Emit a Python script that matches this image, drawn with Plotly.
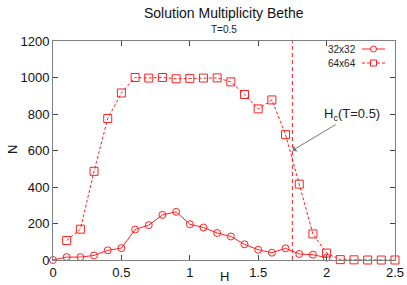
import plotly.graph_objects as go

# ---- data ----
H_32 = [0.0, 0.1, 0.2, 0.3, 0.4, 0.5, 0.6, 0.7, 0.8, 0.9, 1.0, 1.1, 1.2, 1.3, 1.4, 1.5, 1.6, 1.7, 1.8, 1.9, 2.0]
N_32 = [0, 16, 16, 25, 53, 65, 167, 191, 247, 264, 196, 178, 148, 129, 86, 56, 40, 64, 33, 29, 13]

H_64 = [0.1, 0.2, 0.3, 0.4, 0.5, 0.6, 0.7, 0.8, 0.9, 1.0, 1.1, 1.2, 1.3, 1.4, 1.5, 1.6, 1.7, 1.8, 1.9, 2.0, 2.1, 2.2, 2.3, 2.4, 2.5]
N_64 = [107, 169, 486, 775, 915, 1000, 997, 1000, 993, 995, 997, 998, 976, 907, 828, 877, 687, 416, 143, 38, 2, 1, 0, 0, 0]

HC = 1.75
HC_N = 600
SERIES_NAMES = ["32x32", "64x64"]
X_TICKS = [0, 0.5, 1, 1.5, 2, 2.5]
X_TICK_LABELS = ["0", "0.5", "1", "1.5", "2", "2.5"]
Y_TICKS = [0, 200, 400, 600, 800, 1000, 1200]
Y_TICK_LABELS = ["0", "200", "400", "600", "800", "1000", "1200"]

RED = "#ff2020"
GRAY = "#808080"
FONT = "Liberation Sans, Arial, sans-serif"

W, H = 407, 285
L, R, T, B = 53, 12, 41, 25
PW, PH = W - L - R, H - T - B


def px(xp):
    return (xp - L) / PW


def py(yp):
    return (H - B - yp) / PH


fig = go.Figure()
fig.add_trace(go.Scatter(
    x=H_32, y=N_32, name=SERIES_NAMES[0], mode="lines+markers",
    line=dict(color=RED, width=1),
    marker=dict(symbol="circle-open", size=7, color=RED, line=dict(width=1)),
    cliponaxis=False, showlegend=False))
fig.add_trace(go.Scatter(
    x=H_64, y=N_64, name=SERIES_NAMES[1], mode="lines+markers",
    line=dict(color=RED, width=1, dash="3px,2px"),
    marker=dict(symbol="square-open", size=8, color=RED, line=dict(width=1)),
    cliponaxis=False, showlegend=False))

shapes = [
    dict(type="line", xref="x", yref="paper", x0=HC, x1=HC, y0=0, y1=1,
         line=dict(color=RED, width=1, dash="4px,3px")),
]

# manual legend (text left, sample right)
rows = [49, 63]
for i, yy in enumerate(rows):
    shapes.append(dict(type="line", xref="paper", yref="paper",
                       x0=px(362), x1=px(385), y0=py(yy), y1=py(yy),
                       line=dict(color=RED, width=1, dash="solid" if i == 0 else "3px,2px")))
    shapes.append(dict(type="circle" if i == 0 else "rect",
                       xref="paper", yref="paper",
                       xsizemode="pixel", ysizemode="pixel",
                       xanchor=px(373.5), yanchor=py(yy),
                       x0=-3, x1=3, y0=-3, y1=3,
                       fillcolor="white", line=dict(color=RED, width=1)))

annotations = [
    dict(text=SERIES_NAMES[0], xref="paper", yref="paper", x=px(358), y=py(rows[0]),
         xanchor="right", yanchor="middle", showarrow=False,
         font=dict(size=10, color="#222", family=FONT)),
    dict(text=SERIES_NAMES[1], xref="paper", yref="paper", x=px(358), y=py(rows[1]),
         xanchor="right", yanchor="middle", showarrow=False,
         font=dict(size=10, color="#222", family=FONT)),
    dict(text="H<sub>c</sub>(T=0.5)", x=HC, y=HC_N, xref="x", yref="y",
         ax=60, ay=-36, showarrow=True, arrowhead=1, arrowsize=1.2,
         arrowwidth=1, arrowcolor="#777",
         font=dict(size=13, color="#222", family=FONT)),
    dict(text="Solution Multiplicity Bethe", xref="paper", yref="paper",
         x=px(224), y=py(13), showarrow=False, xanchor="center", yanchor="middle",
         font=dict(size=14, color="#111", family=FONT)),
    dict(text="T=0.5", xref="paper", yref="paper",
         x=px(224), y=py(29), showarrow=False, xanchor="center", yanchor="middle",
         font=dict(size=10, color="#222", family=FONT)),
    dict(text="H", xref="paper", yref="paper",
         x=px(224), y=py(276), showarrow=False, xanchor="center", yanchor="middle",
         font=dict(size=13, color="#111", family=FONT)),
    dict(text="N", xref="paper", yref="paper", textangle=-90,
         x=px(12), y=py(150), showarrow=False, xanchor="center", yanchor="middle",
         font=dict(size=13, color="#111", family=FONT)),
]

fig.update_layout(
    width=W, height=H,
    margin=dict(l=L, r=R, t=T, b=B, pad=0, autoexpand=False),
    paper_bgcolor="white", plot_bgcolor="white",
    font=dict(family=FONT, size=13, color="#111"),
    shapes=shapes, annotations=annotations,
    showlegend=False,
    xaxis=dict(range=[0, 2.5], tickvals=X_TICKS, ticktext=X_TICK_LABELS,
               automargin=False,
               showgrid=False, zeroline=False, showline=True, linecolor=GRAY,
               linewidth=1, mirror="ticks", ticks="inside", ticklen=5,
               tickcolor="#444", tickfont=dict(size=13)),
    yaxis=dict(range=[0, 1200], tickvals=Y_TICKS, ticktext=Y_TICK_LABELS,
               automargin=False,
               showgrid=False, zeroline=True, zerolinecolor="#222",
               zerolinewidth=1, showline=True, linecolor=GRAY,
               linewidth=1, mirror="ticks", ticks="inside", ticklen=5,
               tickcolor="#444", tickfont=dict(size=13)),
)

fig.write_html("out.html",
               config={"displayModeBar": False, "responsive": False},
               post_script="document.body.style.margin='0';document.body.style.padding='0';")
